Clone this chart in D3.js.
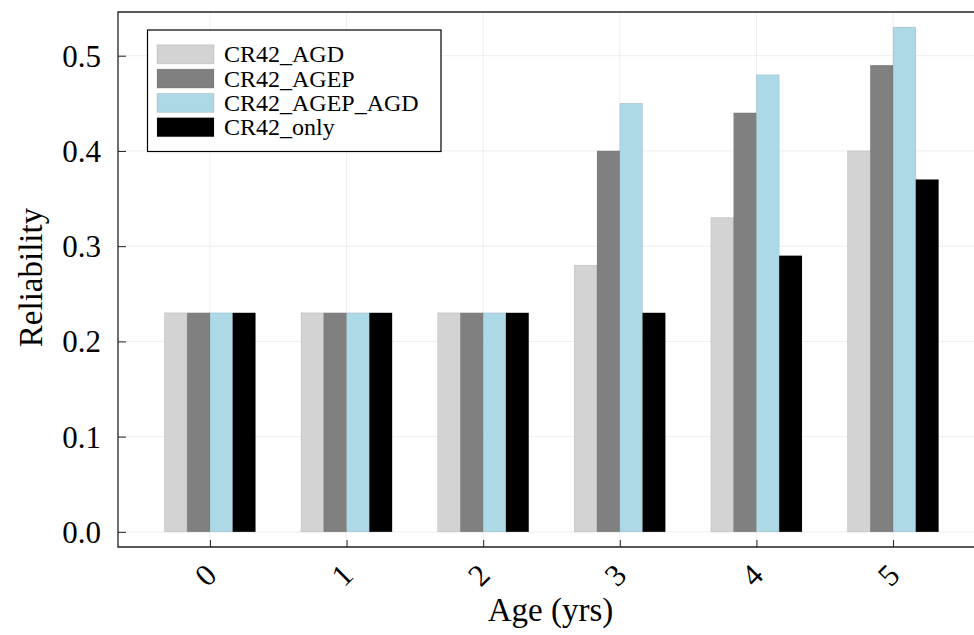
<!DOCTYPE html>
<html>
<head>
<meta charset="utf-8">
<script src="https://cdn.jsdelivr.net/npm/d3@7"></script>
<style>
  body { margin: 0; background: #fff; }
  text { font-family: "Liberation Serif", "Times New Roman", serif; fill: #000; }
</style>
</head>
<body>
<div id="chart"></div>
<script>
// data
var ages = [0, 1, 2, 3, 4, 5];
var seriesNames = ["CR42_AGD", "CR42_AGEP", "CR42_AGEP_AGD", "CR42_only"];
var seriesColors = ["#d3d3d3", "#808080", "#add8e6", "#000000"];
var agd = [0.23, 0.23, 0.23, 0.28, 0.33, 0.40];
var agep = [0.23, 0.23, 0.23, 0.40, 0.44, 0.49];
var agepAgd = [0.23, 0.23, 0.23, 0.45, 0.48, 0.53];
var only = [0.23, 0.23, 0.23, 0.23, 0.29, 0.37];
var yTicks = [0.0, 0.1, 0.2, 0.3, 0.4, 0.5];

var seriesValues = [agd, agep, agepAgd, only];

var svgWidth = 974;
var svgHeight = 635;

var plot = { left: 118, top: 12, right: 985, bottom: 547 };

var svg = d3.select("#chart")
  .append("svg")
  .attr("width", svgWidth)
  .attr("height", svgHeight);

var xScale = d3.scaleLinear()
  .domain([-0.673, 5.673])
  .range([plot.left, plot.right]);

var yScale = d3.scaleLinear()
  .domain([-0.0159, 0.5459])
  .range([plot.bottom, plot.top]);

var step = xScale(1) - xScale(0);
var inner = d3.scaleBand()
  .domain(seriesNames)
  .range([-step / 3, step / 3])
  .paddingInner(0);

// grid
var grid = svg.append("g");
grid.selectAll(".vgrid")
  .data(ages)
  .enter()
  .append("line")
  .attr("x1", d => xScale(d))
  .attr("x2", d => xScale(d))
  .attr("y1", plot.top)
  .attr("y2", plot.bottom)
  .attr("stroke", "#000")
  .attr("stroke-opacity", 0.07);
grid.selectAll(".hgrid")
  .data(yTicks)
  .enter()
  .append("line")
  .attr("x1", plot.left)
  .attr("x2", plot.right)
  .attr("y1", d => yScale(d))
  .attr("y2", d => yScale(d))
  .attr("stroke", "#000")
  .attr("stroke-opacity", 0.07);

// bars
var rows = [];
seriesNames.forEach((name, i) => {
  ages.forEach((age, j) => {
    rows.push({ name: name, color: seriesColors[i], age: age, value: seriesValues[i][j] });
  });
});

svg.append("g")
  .selectAll("rect")
  .data(rows)
  .enter()
  .append("rect")
  .attr("x", d => xScale(d.age) + inner(d.name))
  .attr("width", inner.bandwidth())
  .attr("y", d => yScale(d.value))
  .attr("height", d => yScale(0) - yScale(d.value))
  .attr("fill", d => d.color)
  .attr("stroke", "#000")
  .attr("stroke-opacity", 0.15)
  .attr("stroke-width", 0.6);

// axes
var leftAxis = d3.axisLeft(yScale)
  .tickValues(yTicks)
  .tickSizeInner(-8)
  .tickSizeOuter(0)
  .tickPadding(17)
  .tickFormat(d3.format(".1f"));

var yAxis = svg.append("g")
  .attr("transform", `translate(${plot.left},0)`)
  .call(leftAxis);
yAxis.select(".domain").remove();
yAxis.selectAll("line").attr("stroke", "#222");
yAxis.selectAll("text")
  .attr("font-size", "31px")
  .attr("font-family", "Liberation Serif, serif")
  .attr("dy", "0.34em");

var bottomAxis = d3.axisBottom(xScale)
  .tickValues(ages)
  .tickSizeInner(-7)
  .tickSizeOuter(0)
  .tickFormat(d3.format("d"));

var xAxis = svg.append("g")
  .attr("transform", `translate(0,${plot.bottom})`)
  .call(bottomAxis);
xAxis.select(".domain").remove();
xAxis.selectAll("line").attr("stroke", "#222");
xAxis.selectAll("text")
  .attr("font-size", "31px")
  .attr("font-family", "Liberation Serif, serif")
  .attr("text-anchor", "middle")
  .attr("dominant-baseline", "central")
  .attr("x", 0)
  .attr("y", 0)
  .attr("dy", null)
  .attr("transform", "translate(-5,28) rotate(-45)");

// frame
svg.append("path")
  .attr("d", `M${plot.right},${plot.top}H${plot.left}V${plot.bottom}H${plot.right}`)
  .attr("fill", "none")
  .attr("stroke", "#222")
  .attr("stroke-width", 1.3);

// axis labels
svg.append("text")
  .attr("transform", `translate(42,${(plot.top + plot.bottom) / 2 - 2}) rotate(-90)`)
  .attr("text-anchor", "middle")
  .attr("font-size", "33px")
  .text("Reliability");

svg.append("text")
  .attr("x", xScale(2.5) - 1)
  .attr("y", 621)
  .attr("text-anchor", "middle")
  .attr("font-size", "33px")
  .text("Age (yrs)");

// legend
var legend = svg.append("g");
legend.append("rect")
  .attr("x", 147.5)
  .attr("y", 30)
  .attr("width", 293.5)
  .attr("height", 121.5)
  .attr("fill", "#fff")
  .attr("stroke", "#000")
  .attr("stroke-width", 1.2);

var items = legend.selectAll(".item")
  .data(seriesNames)
  .enter()
  .append("g")
  .attr("transform", (d, i) => `translate(0,${54.3 + i * 24.3})`);

items.append("rect")
  .attr("x", 157)
  .attr("y", -9.5)
  .attr("width", 57)
  .attr("height", 19)
  .attr("fill", (d, i) => seriesColors[i])
  .attr("stroke", "#000")
  .attr("stroke-opacity", 0.1);

items.append("text")
  .attr("x", 224)
  .attr("y", 0)
  .attr("dy", "0.34em")
  .attr("font-size", "24px")
  .text(d => d);
</script>
</body>
</html>
